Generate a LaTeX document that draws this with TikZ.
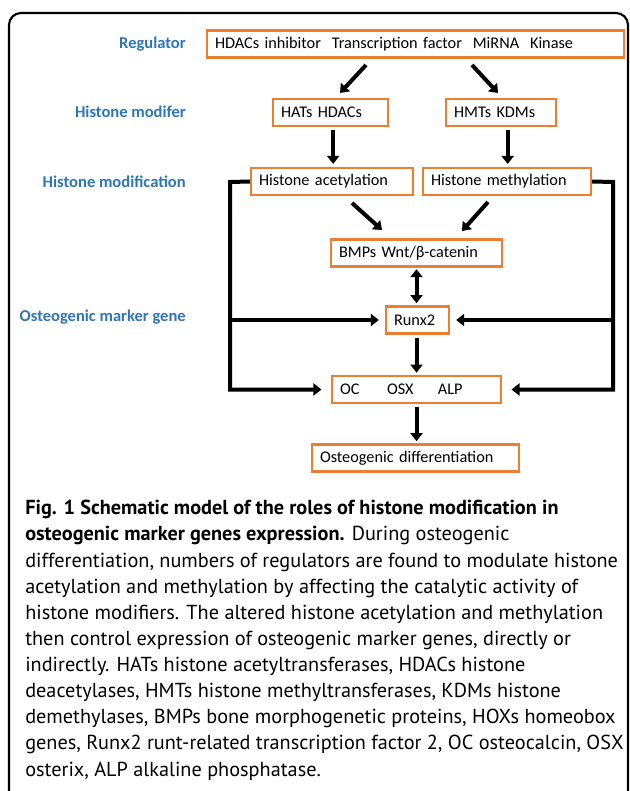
\documentclass[tikz,border=0pt]{standalone}
\usepackage{fontspec}
\setmainfont{Carlito}
\newfontfamily\capfont{PT Sans}
\usetikzlibrary{arrows.meta}
\definecolor{boxorange}{RGB}{237,125,49}
\definecolor{levelblue}{RGB}{46,117,182}
\tikzset{
  box/.style={draw=boxorange, line width=1.8pt, inner xsep=6pt, inner ysep=0pt,
    minimum height=20.5pt, align=left, font=\fontsize{12.2}{14}\selectfont},
  level/.style={anchor=east, text=levelblue, inner sep=0pt, font=\bfseries\fontsize{12.4}{14}\selectfont},
  arr/.style={line width=3pt, -{Triangle[width=9pt,length=6pt]}},
  dbl/.style={line width=3pt, {Triangle[width=9pt,length=6pt]}-{Triangle[width=9pt,length=6pt]}},
}
\begin{document}
\begin{tikzpicture}[x=0.75pt,y=-0.75pt]
   \useasboundingbox (0,0) rectangle (629,791);
   \draw[line width=1.6pt, rounded corners=9pt] (9,798) -- (9,13) -- (628,13) -- (628,798);

   \node[level] (lreg) at (186,44) {Regulator};
   \node[level] (lmod) at (186,112) {Histone modifer};
   \node[level] (lhm) at (186,182) {Histone modification};
   \node[level] (lgene) at (186,317) {Osteogenic marker gene};

   \node[box, text width=300.75pt] (reg) at (415.5,44)
      {HDACs inhibitor\ \ Transcription factor\ \ MiRNA\ \ Kinase};
   \node[box, text width=74.25pt] (hat) at (330.5,112.5) {HATs HDACs};
   \node[box, text width=70.5pt] (hmt) at (501,112.5) {HMTs KDMs};
   \node[box, text width=109.5pt] (ace) at (332,181.5) {Histone acetylation};
   \node[box, text width=114pt] (met) at (507,181.5) {Histone methylation};
   \node[box, text width=116.25pt] (bmp) at (416.5,253) {BMPs Wnt/β-catenin};
   \node[box, text width=35.25pt] (runx) at (417.5,320) {Runx2};
   \node[box, text width=114.75pt] (oc) at (416.5,389.5)
      {\makebox[35.25pt][l]{OC}\makebox[38.25pt][l]{OSX}ALP};
   \node[box, text width=143.25pt] (ost) at (415.5,458) {Osteogenic differentiation};

   \coordinate (r1) at (366,65);
   \coordinate (h1) at (340,93);
   \coordinate (r2) at (472,65);
   \coordinate (h2) at (498,93);
   \draw[arr] (r1) -- (h1);
   \draw[arr] (r2) -- (h2);

   \draw[arr, shorten <=2pt, shorten >=2pt] ([xshift=2pt]hat.south) -- ([xshift=2pt]hat.south |- ace.north);
   \draw[arr, shorten <=2pt, shorten >=2pt] ([xshift=5pt]hmt.south) -- ([xshift=5pt]hmt.south |- met.north);

   \coordinate (a1) at (352,203);
   \coordinate (b1) at (382,230);
   \coordinate (a2) at (488,202);
   \coordinate (b2) at (462,231);
   \draw[arr] (a1) -- (b1);
   \draw[arr] (a2) -- (b2);

   \draw[dbl, shorten <=1pt, shorten >=1.5pt] (bmp.south) -- (bmp.south |- runx.north);
   \draw[arr, shorten <=2pt, shorten >=1.5pt] (runx.south -| oc.north) -- (oc.north);
   \draw[arr, shorten <=2pt, shorten >=1.5pt] (oc.south) -- (oc.south |- ost.north);

   \coordinate (lbus) at (230,182);
   \coordinate (rbus) at (613,182);
   \draw[arr, shorten >=7pt] (ace.west) -- (lbus) |- (oc.west);
   \draw[arr, shorten >=4.5pt] (lbus |- runx.west) -- (runx.west);
   \draw[arr, shorten >=7pt] (met.east) -- (rbus) |- (oc.east);
   \draw[arr, shorten >=4.5pt] (rbus |- runx.east) -- (runx.east);

   \node[anchor=north west, inner sep=0pt, align=left,
      font=\capfont\fontsize{15.2}{19.6}\selectfont] (cap) at (25,500)
   {\textbf{Fig. 1 Schematic model of the roles of histone modification in}\\
    \textbf{osteogenic marker genes expression.} During osteogenic\\
    differentiation, numbers of regulators are found to modulate histone\\
    acetylation and methylation by affecting the catalytic activity of\\
    histone modifiers. The altered histone acetylation and methylation\\
    then control expression of osteogenic marker genes, directly or\\
    indirectly. HATs histone acetyltransferases, HDACs histone\\
    deacetylases, HMTs histone methyltransferases, KDMs histone\\
    demethylases, BMPs bone morphogenetic proteins, HOXs homeobox\\
    genes, Runx2 runt-related transcription factor 2, OC osteocalcin, OSX\\
    osterix, ALP alkaline phosphatase.};
\end{tikzpicture}
\end{document}
